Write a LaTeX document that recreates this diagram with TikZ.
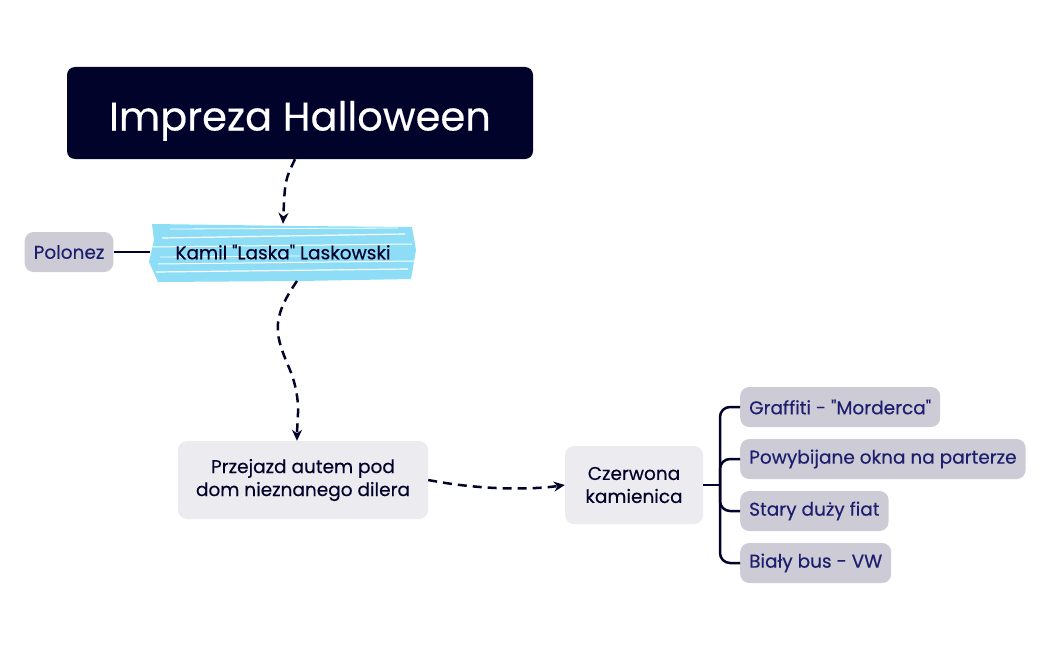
\documentclass[tikz,border=0pt]{standalone}
\usepackage{fontspec}
\setmainfont{Poppins}[Ligatures=TeXOff,FakeBold=0.35,BoldFont=*,BoldFeatures={FakeBold=0.35}]
\usetikzlibrary{arrows.meta,calc}
\definecolor{navy}{HTML}{02032B}
\definecolor{subtext}{HTML}{1E1E6E}
\definecolor{graybox}{HTML}{CDCCD6}
\definecolor{lightbox}{HTML}{ECEBEF}
\definecolor{hilite}{HTML}{8EDDF6}
\tikzset{
  titlebox/.style={fill=navy,rounded corners=8pt,text=white,minimum width=466pt,minimum height=92pt,text height=35pt,text depth=0pt,font=\fontsize{40}{46}\selectfont},
  tagbox/.style={fill=graybox,rounded corners=9pt,text=subtext,minimum height=40pt,inner xsep=9pt,font=\fontsize{18.5}{22}\selectfont},
  topicbox/.style={fill=lightbox,rounded corners=9pt,text=navy,align=center,font=\fontsize{18.5}{23}\selectfont},
  link/.style={draw=navy,line width=2.5pt,dash pattern=on 9pt off 6pt,-{Stealth[length=11pt,width=10pt]}},
  solidlink/.style={draw=navy,line width=2.5pt},
}
\begin{document}
\begin{tikzpicture}[x=1pt,y=-1pt]
\useasboundingbox (0,0) rectangle (1048,650);
% title
\node[titlebox] (title) at (300,113) {Impreza Halloween};
% highlight brush
\begin{scope}
\fill[hilite] (152,224) -- (300,226) -- (412,227) -- (416,250) -- (411,279) -- (300,281) -- (158,282) -- (149,262) -- (154,240) -- cycle;
\draw[white,line width=1.2pt] (162,238) -- (405,234);
\draw[white,line width=1pt] (150,247) -- (412,244);
\draw[white,line width=0.8pt] (160,257) -- (300,256);
\draw[white,line width=1pt] (158,264) -- (414,261);
\draw[white,line width=1.2pt] (156,272) -- (408,269);
\draw[white,line width=0.8pt] (170,229) -- (398,228);
\end{scope}
\node[text=navy,font=\fontsize{18.5}{22}\selectfont,inner sep=0pt,minimum width=265pt,minimum height=56pt] (kamil) at (283,252) {Kamil "Laska" Laskowski};
\node[tagbox] (polonez) at (69,252) {Polonez};
\node[topicbox,minimum width=250pt,minimum height=78pt] (przejazd) at (303,480) {Przejazd autem pod\\dom nieznanego dilera};
\node[topicbox,minimum width=138pt,minimum height=78pt] (czerwona) at (634,485) {Czerwona\\kamienica};
% children
\node[tagbox,anchor=west] (c1) at (740,407) {Graffiti - "Morderca"};
\node[tagbox,anchor=west] (c2) at (740,459) {Powybijane okna na parterze};
\node[tagbox,anchor=west] (c3) at (740,511) {Stary duży fiat};
\node[tagbox,anchor=west] (c4) at (740,563) {Biały bus - VW};
% connectors
\draw[link] ($(title.south)+(-5,0)$) .. controls (285,180) .. (kamil.north);
\draw[solidlink] (polonez.east) -- (kamil.west);
\draw[link] (297,281) .. controls (270,320) and (275,335) .. (290,370) .. controls (302,400) and (297,420) .. (przejazd.north -| 297,0);
\draw[link] (przejazd.east) .. controls (480,490) and (530,490) .. (czerwona.west);
\coordinate (fork) at (720,485);
\draw[solidlink] (czerwona.east) -- (fork);
\draw[solidlink,rounded corners=10pt] (c1.west) -| (fork) |- (c4.west);
\draw[solidlink,rounded corners=10pt] (c2.west) -| (fork) |- (c3.west);
\end{tikzpicture}
\end{document}
